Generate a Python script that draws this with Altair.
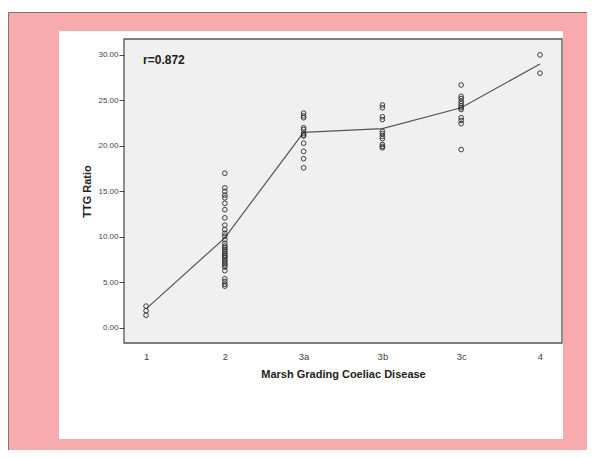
import altair as alt
import pandas as pd

grades = ["1", "2", "3a", "3b", "3c", "4"]
g1 = [2.4, 1.9, 1.4]
g2 = [17.0, 15.4, 15.0, 14.6, 14.3, 13.7, 13.0, 12.1, 11.3, 10.8, 10.4, 10.1, 9.7,
      9.3, 9.0, 8.8, 8.6, 8.4, 8.2, 8.0, 7.9, 7.7, 7.5, 7.3, 7.1, 6.9, 6.7, 6.3,
      5.4, 5.1, 4.8, 4.6]
g3a = [23.6, 23.3, 23.1, 22.0, 21.8, 21.4, 21.2, 21.1, 20.3, 19.4, 18.6, 17.6]
g3b = [24.5, 24.2, 23.2, 22.9, 21.6, 21.35, 21.05, 20.8, 20.15, 19.95, 19.8]
g3c = [26.7, 25.45, 25.2, 24.9, 24.65, 24.4, 24.2, 24.0, 23.1, 22.8, 22.45, 19.6]
g4 = [30.0, 28.0]
means = [2.1, 9.9, 21.5, 21.9, 24.2, 29.0]
annot_text = ["r=0.872"]
annot_y = [29.4]

groups = [g1, g2, g3a, g3b, g3c, g4]
pts = pd.DataFrame(
    [{"grade": g, "ttg": v} for g, vals in zip(grades, groups) for v in vals]
)
mean_df = pd.DataFrame({"grade": grades, "ttg": means})
annot_df = pd.DataFrame({"grade": [grades[0]], "ttg": annot_y, "label": annot_text})

W, H = 438, 304
FONT = "Liberation Sans"

xscale = alt.Scale(type="point", domain=grades, padding=0.28)
yscale = alt.Scale(domain=[-1.65, 31.75], nice=False, zero=False)

xenc = alt.X(
    "grade:O",
    scale=xscale,
    sort=grades,
    title="Marsh Grading Coeliac Disease",
    axis=alt.Axis(
        labelAngle=0, ticks=False, domain=False, labelPadding=8,
        labelFontSize=9.5, labelColor="#444444", labelFont=FONT,
        titleFontSize=11, titleFont=FONT, titleFontWeight="bold",
        titleColor="#222222", titlePadding=8, zindex=1,
    ),
)
yenc = alt.Y(
    "ttg:Q",
    scale=yscale,
    title="TTG Ratio",
    axis=alt.Axis(
        values=[0, 5, 10, 15, 20, 25, 30], format=".2f", grid=False,
        domain=False, tickSize=5, tickColor="#444444", tickWidth=1,
        labelFontSize=8, labelColor="#444444", labelFont=FONT, labelPadding=1,
        titleFontSize=11, titleFont=FONT, titleFontWeight="bold",
        titleColor="#222222", titlePadding=5, zindex=1,
    ),
)

pink = alt.Chart(mean_df.head(1)).mark_rect(
    fill="#f7abad", stroke="#777777", strokeWidth=1
).encode(
    x=alt.value(-115.5), x2=alt.value(700), y=alt.value(-26.5), y2=alt.value(600)
)
white = alt.Chart(mean_df.head(1)).mark_rect(fill="#ffffff").encode(
    x=alt.value(-65), x2=alt.value(439), y=alt.value(-8), y2=alt.value(400)
)
panel = alt.Chart(mean_df.head(1)).mark_rect(
    fill="#f0f0f0", stroke="#555555", strokeWidth=1.3
).encode(
    x=alt.value(0), x2=alt.value(W), y=alt.value(0), y2=alt.value(H)
)

line = alt.Chart(mean_df).mark_line(color="#555555", strokeWidth=1.2).encode(
    x=xenc, y=yenc
)
points = alt.Chart(pts).mark_point(
    shape="circle", filled=False, color="#2a2a2a", size=22, strokeWidth=0.9, opacity=1
).encode(x=xenc, y=yenc)
annot = alt.Chart(annot_df).mark_text(
    align="left", baseline="middle", fontSize=12, fontWeight="bold",
    font=FONT, color="#222222", dx=-3
).encode(x=xenc, y=yenc, text="label:N")

chart = alt.layer(pink, white, panel, line, points, annot).properties(
    width=W, height=H,
    autosize=alt.AutoSizeParams(type="none"),
    padding={"left": 116, "top": 31, "right": 25, "bottom": 107},
    background="#ffffff",
).configure_view(stroke=None)

chart.save("out.html", embed_options={"renderer": "svg", "actions": False})
